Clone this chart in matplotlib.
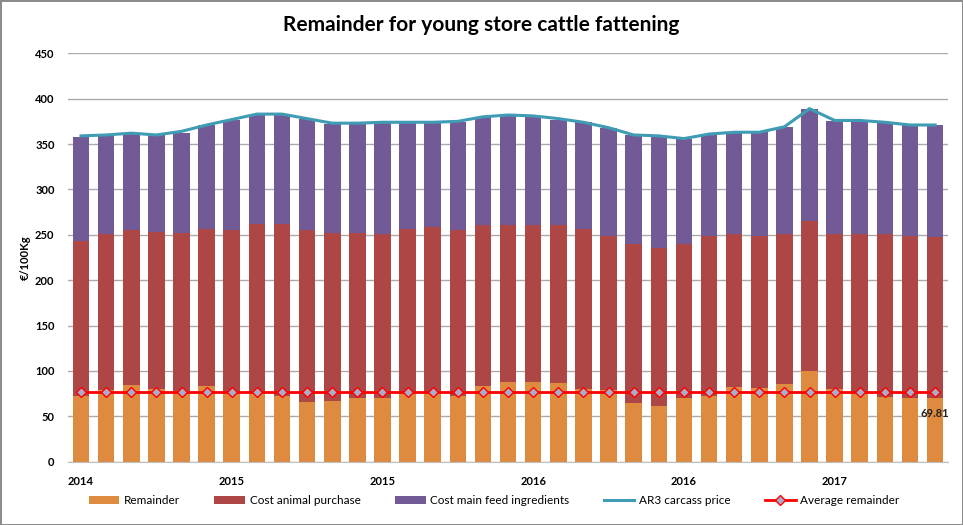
import matplotlib.pyplot as plt
import numpy as np

plt.rcParams['font.family'] = ['Lato', 'DejaVu Sans']

# x tick labels (one label every 6 bars)
tick_labels = ['2014', '2015', '2015', '2016', '2016', '2017']

# stacked components, euro per 100 kg
remainder = [72.1, 79.0, 84.6, 80.1, 77.5, 83.8, 75.5, 75.5, 72.1, 66.2,
             67.3, 70.2, 69.9, 75.5, 76.1, 72.8, 83.5, 88.2, 87.5, 86.4,
             79.8, 79.0, 64.3, 61.4, 70.6, 72.4, 82.7, 81.6, 85.7, 100.0,
             80.1, 76.1, 71.7, 70.6, 69.81]
animal_purchase = [171.3, 171.7, 170.2, 172.8, 174.3, 172.1, 179.6, 186.6, 189.7, 189.3,
                   184.9, 181.6, 180.8, 180.4, 182.4, 182.7, 177.2, 172.5, 173.2, 173.9,
                   176.5, 169.9, 175.4, 174.6, 169.1, 175.8, 168.4, 167.3, 165.0, 165.4,
                   171.0, 174.6, 178.7, 177.9, 177.3]
feed_ingredients = [114.7, 108.1, 105.9, 106.7, 110.7, 115.1, 121.7, 119.5, 119.8, 122.1,
                    119.9, 119.9, 122.5, 117.3, 114.7, 118.4, 119.1, 121.3, 119.8, 116.5,
                    117.6, 118.7, 119.9, 122.1, 116.2, 112.5, 111.8, 114.0, 118.1, 123.2,
                    124.6, 125.0, 122.8, 122.1, 123.8]
ar3_price = [359, 360, 362, 360, 364, 371, 377, 383, 383, 378,
             373, 373, 374, 374, 374, 375, 380, 382, 381, 378,
             374, 368, 360, 359, 356, 361, 363, 363, 369, 389,
             376, 376, 374, 371, 371]
avg_remainder = 77.2

n = len(remainder)
x = np.arange(n)
rem = np.array(remainder)
anim = np.array(animal_purchase)
feed = np.array(feed_ingredients)

fig = plt.figure(figsize=(9.63, 5.25), dpi=100)
fig.patch.set_edgecolor('#8c8c8c')
fig.patch.set_linewidth(2)
ax = fig.add_axes([0.0711, 0.1206, 0.913, 0.7779])

w = 0.66
b1 = ax.bar(x, rem, w, color='#DE8A3F', label='Remainder', zorder=2)
b2 = ax.bar(x, anim, w, bottom=rem, color='#AD4645', label='Cost animal purchase', zorder=2)
b3 = ax.bar(x, feed, w, bottom=rem + anim, color='#725A96', label='Cost main feed ingredients', zorder=2)
l1, = ax.plot(x, ar3_price, color='#3F9CB4', lw=2.2, label='AR3 carcass price', zorder=3)
l2, = ax.plot(x, [avg_remainder] * n, color='#FF0000', lw=2, marker='D', ms=5.5,
              mfc='#A6AECB', mec='#FF0000', mew=1, label='Average remainder', zorder=4)

ax.text(x[-1], 53.5, '%.2f' % remainder[-1], ha='center', va='center',
        fontsize=8, fontweight='bold', color='#222222', zorder=5)

ax.set_xlim(-0.5, n - 0.5)
ax.set_ylim(0, 450)
ax.set_yticks(np.arange(0, 451, 50))
ax.set_xticks(x[::6])
ax.set_xticklabels(tick_labels)
ax.yaxis.grid(True, color='#ababab', lw=1, zorder=0)
ax.set_axisbelow(True)
for s in ['top', 'right', 'left']:
    ax.spines[s].set_visible(False)
ax.spines['bottom'].set_color('#bfbfbf')
ax.tick_params(length=0, labelsize=8, pad=10)
for lb in ax.get_xticklabels() + ax.get_yticklabels():
    lb.set_fontweight('bold')
ax.tick_params(axis='y', pad=10)
ax.set_ylabel('€/100Kg', fontsize=8, fontweight='bold', labelpad=3)

fig.suptitle('Remainder for young store cattle fattening', fontsize=15,
             fontweight='bold', y=0.972)
fig.legend([b1, b2, b3, l1, l2],
           ['Remainder', 'Cost animal purchase', 'Cost main feed ingredients',
            'AR3 carcass price', 'Average remainder'],
           loc='center', bbox_to_anchor=(0.513, 0.046), ncol=5, frameon=False,
           fontsize=8.5, handlelength=2.6, handleheight=0.6, columnspacing=2.9,
           handletextpad=0.4)

plt.savefig('out.png', dpi=100)
